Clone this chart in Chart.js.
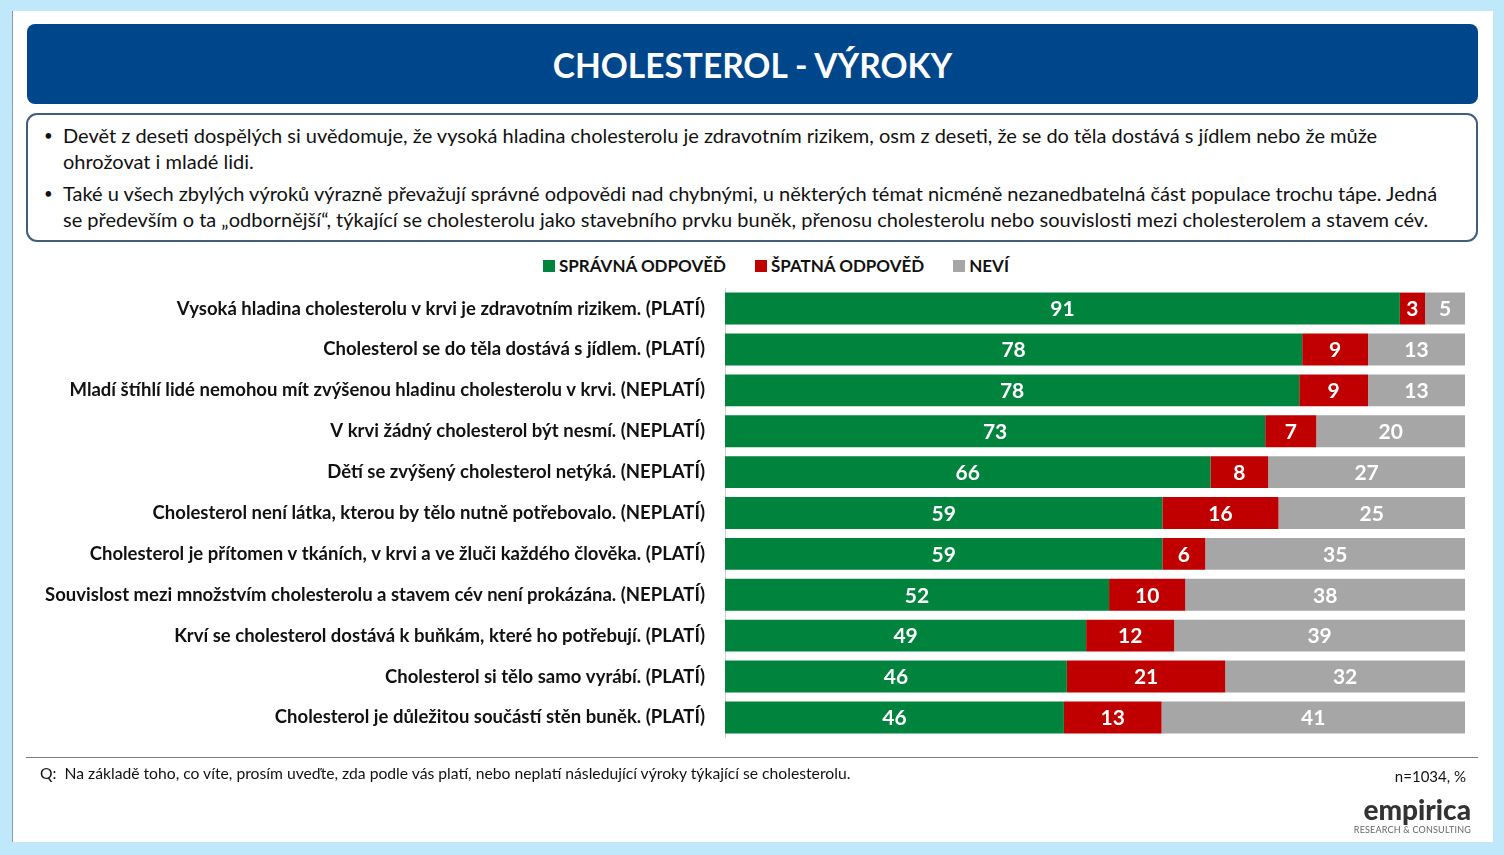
<!DOCTYPE html>
<html>
<head>
<meta charset="utf-8">
<script src="https://cdn.jsdelivr.net/npm/chart.js@4.4.1/dist/chart.umd.min.js"></script>
<style>
  body { margin: 0; width: 1504px; height: 855px; background: #bfe8fb; font-family: Lato, "Open Sans", sans-serif; position: relative; overflow: hidden; }
  #panel { position: absolute; left: 12px; top: 11px; width: 1480px; height: 831px; background: #fff; border-left: 1px solid #8a9aa6; }
  #title { position: absolute; left: 27px; top: 24px; width: 1451px; height: 80px; background: #00468a; border-radius: 8px;
    color: #fff; font-weight: 700; font-size: 33.5px; text-align: center; line-height: 82px; }
  #note { position: absolute; left: 26px; top: 113px; width: 1448px; height: 125px; border: 2px solid #3f5d7c; border-radius: 11px; }
  #note ul { margin: 0; padding: 7px 0 0 35px; list-style: none; }
  #note li { position: relative; font-size: 20px; line-height: 26px; color: #111; margin-bottom: 6px; }
  #note li::before { content: "•"; position: absolute; left: -19px; font-size: 15px; }
  #legend { position: absolute; top: 255px; left: 543px; display: flex; font-size: 17px; font-weight: 700; color: #111; }
  #legend span { display: flex; align-items: center; margin-right: 29px; }
  #legend i { display: inline-block; width: 12px; height: 12px; margin-right: 4px; }
  #chartBox { position: absolute; left: 26px; top: 257px; width: 1452px; height: 512px; }
  #rule { position: absolute; left: 26px; top: 757px; width: 1452px; height: 1px; background: #7f7f7f; }
  #q { position: absolute; left: 40px; top: 764px; font-size: 15.7px; color: #111; }
  #n { position: absolute; right: 38px; top: 767px; font-size: 15px; color: #111; }
  #logo { position: absolute; right: 33px; top: 794px; text-align: right; color: #333; }
  #logo b { display: block; font-size: 28px; line-height: 30px; font-weight: 900; }
  #logo small { display: block; font-size: 9px; color: #666; letter-spacing: 0.2px; }
</style>
</head>
<body>
<div id="panel"></div>
<div id="title">CHOLESTEROL - VÝROKY</div>
<div id="note">
  <ul>
    <li>Devět z deseti dospělých si uvědomuje, že vysoká hladina cholesterolu je zdravotním rizikem, osm z deseti, že se do těla dostává s jídlem nebo že může<br>ohrožovat i mladé lidi.</li>
    <li>Také u všech zbylých výroků výrazně převažují správné odpovědi nad chybnými, u některých témat nicméně nezanedbatelná část populace trochu tápe. Jedná<br>se především o ta „odbornější“, týkající se cholesterolu jako stavebního prvku buněk, přenosu cholesterolu nebo souvislosti mezi cholesterolem a stavem cév.</li>
  </ul>
</div>
<div id="legend"></div>
<div id="rule"></div>
<div id="chartBox"><canvas id="chart"></canvas></div>
<div id="q">Q:&nbsp; Na základě toho, co víte, prosím uveďte, zda podle vás platí, nebo neplatí následující výroky týkající se cholesterolu.</div>
<div id="n">n=1034, %</div>
<div id="logo"><b>empirica</b><small>RESEARCH &amp; CONSULTING</small></div>
<script>
const statements = [
  "Vysoká hladina cholesterolu v krvi je zdravotním rizikem. (PLATÍ)",
  "Cholesterol se do těla dostává s jídlem. (PLATÍ)",
  "Mladí štíhlí lidé nemohou mít zvýšenou hladinu cholesterolu v krvi. (NEPLATÍ)",
  "V krvi žádný cholesterol být nesmí. (NEPLATÍ)",
  "Dětí se zvýšený cholesterol netýká. (NEPLATÍ)",
  "Cholesterol není látka, kterou by tělo nutně potřebovalo. (NEPLATÍ)",
  "Cholesterol je přítomen v tkáních, v krvi a ve žluči každého člověka. (PLATÍ)",
  "Souvislost mezi množstvím cholesterolu a stavem cév není prokázána. (NEPLATÍ)",
  "Krví se cholesterol dostává k buňkám, které ho potřebují. (PLATÍ)",
  "Cholesterol si tělo samo vyrábí. (PLATÍ)",
  "Cholesterol je důležitou součástí stěn buněk. (PLATÍ)"
];
const seriesNames = ["SPRÁVNÁ ODPOVĚĎ", "ŠPATNÁ ODPOVĚĎ", "NEVÍ"];
const correct = [91.2, 78.0, 77.6, 73.0, 65.6, 59.1, 59.1, 51.9, 48.8, 46.2, 45.8];
const wrong   = [3.4, 8.9, 9.3, 6.9, 7.8, 15.7, 5.8, 10.3, 11.9, 21.4, 13.2];
const dontKnow = [5.4, 13.1, 13.1, 20.1, 26.6, 25.2, 35.1, 37.8, 39.3, 32.4, 41.0];
const colors = ["#00843d", "#c00000", "#a6a6a6"];

const legend = document.getElementById("legend");
seriesNames.forEach((name, i) => {
  const s = document.createElement("span");
  s.innerHTML = `<i style="background:${colors[i]}"></i>${name}`;
  legend.appendChild(s);
});

// white value labels in the middle of each segment
const valueLabels = {
  id: "valueLabels",
  afterDatasetsDraw(chart) {
    const ctx = chart.ctx;
    ctx.save();
    ctx.fillStyle = "#fff";
    ctx.font = "bold 21px Lato";
    ctx.textAlign = "center";
    ctx.textBaseline = "middle";
    chart.data.datasets.forEach((ds, di) => {
      chart.getDatasetMeta(di).data.forEach((bar, i) => {
        const x = (bar.x + bar.base) / 2;
        ctx.fillText(Math.round(ds.data[i]), x, bar.y + 1);
      });
    });
    ctx.restore();
  }
};

const ctx = document.getElementById("chart").getContext("2d");
new Chart(ctx, {
  type: 'bar',
  data: {
    labels: statements,
    datasets: [
      { label: seriesNames[0], data: correct, backgroundColor: colors[0] },
      { label: seriesNames[1], data: wrong, backgroundColor: colors[1] },
      { label: seriesNames[2], data: dontKnow, backgroundColor: colors[2] }
    ]
  },
  options: {
    indexAxis: 'y',
    responsive: true,
    maintainAspectRatio: false,
    animation: false,
    layout: { padding: { right: 13, top: 0, bottom: 0 } },
    datasets: { bar: { barPercentage: 0.78, categoryPercentage: 1 } },
    plugins: { legend: { display: false }, tooltip: { enabled: false } },
    scales: {
      x: { stacked: true, min: 0, max: 100, display: false },
      y: {
        stacked: true,
        afterFit(scale) { scale.width = 699; },
        grid: { display: false, drawTicks: false },
        border: { display: true, color: '#d0d0d0', width: 1 },
        ticks: { padding: 20, color: '#111', font: { family: 'Lato', size: 18.5, weight: 'bold' } }
      }
    }
  },
  plugins: [valueLabels]
});
</script>
</body>
</html>
